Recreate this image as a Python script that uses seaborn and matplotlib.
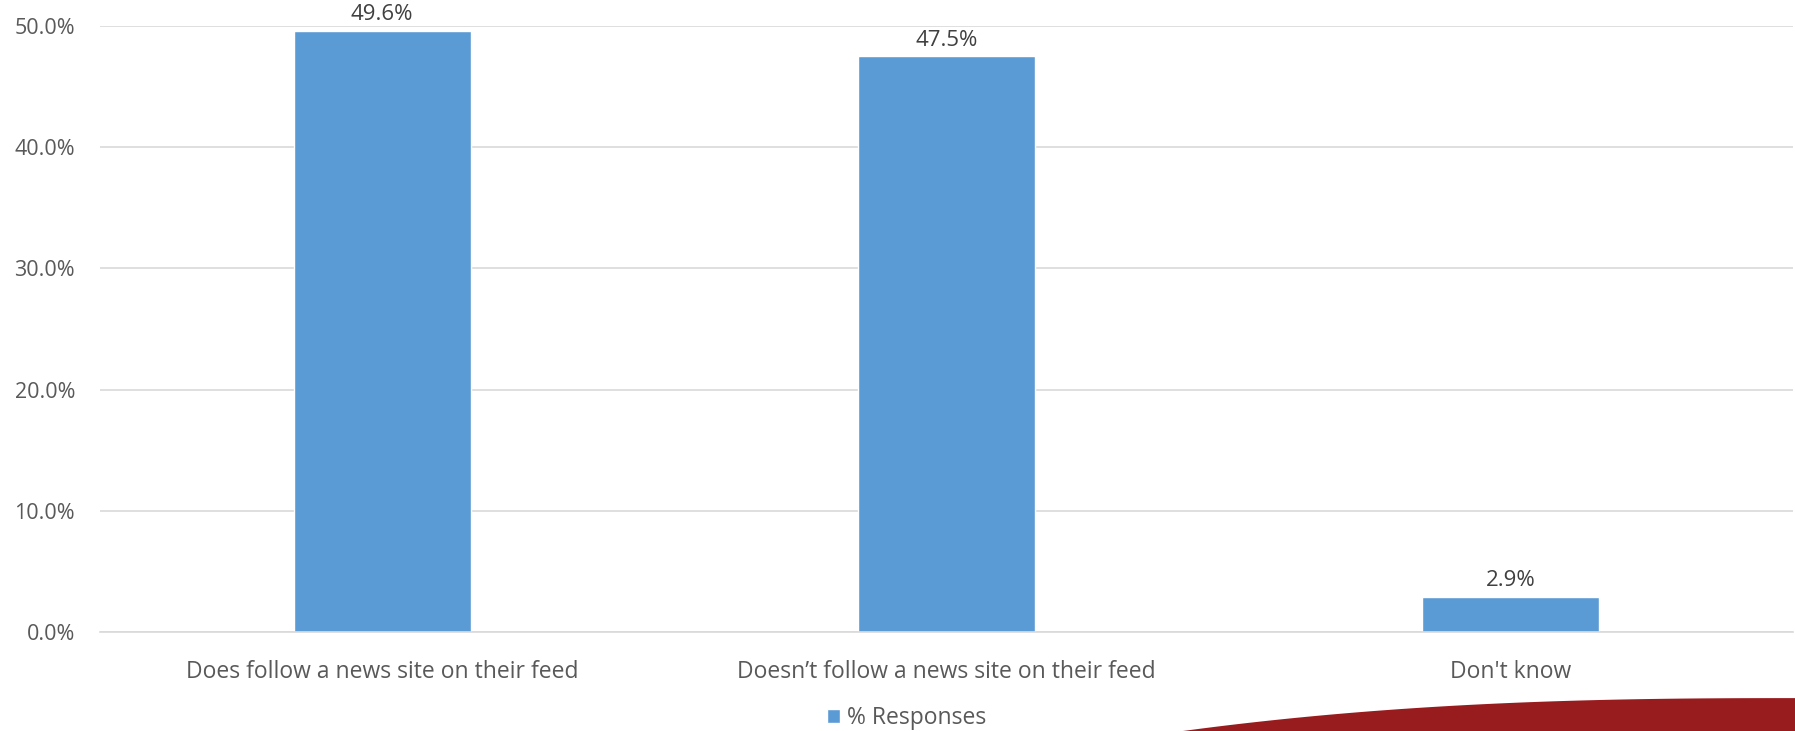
import matplotlib
matplotlib.use("Agg")
import matplotlib.pyplot as plt
import seaborn as sns
import pandas as pd
from matplotlib.patches import Polygon
from matplotlib.ticker import PercentFormatter
import numpy as np

# Data
categories = ["Does follow a news site on their feed",
              "Doesn\u2019t follow a news site on their feed",
              "Don't know"]
responses = [49.6, 47.5, 2.9]

df = pd.DataFrame({"category": categories, "pct": responses})

sns.set_theme(style="white")
plt.rcParams['font.family'] = ['Open Sans', 'DejaVu Sans']

text_col = "#595959"
bar_col = "#5B9BD5"

fig = plt.figure(figsize=(17.95, 7.31), dpi=100)
ax = fig.add_axes([100 / 1795, (731 - 632) / 731, 1693 / 1795, 606 / 731])

sns.barplot(data=df, x="category", y="pct", color=bar_col, width=0.314,
            saturation=1, ax=ax)

ax.set_ylim(0, 50)
ax.set_xlim(-0.5, 2.5)
ax.set_yticks([0, 10, 20, 30, 40, 50])
ax.yaxis.set_major_formatter(PercentFormatter(decimals=1))
ax.grid(axis="y", color="#D9D9D9", linewidth=1.2)
ax.set_axisbelow(True)
for s in ["top", "right", "left"]:
    ax.spines[s].set_visible(False)
ax.spines["bottom"].set_color("#D9D9D9")
ax.spines["bottom"].set_linewidth(1.2)
ax.tick_params(axis="x", length=0, labelsize=16.5, colors=text_col, pad=20)
ax.tick_params(axis="y", length=0, labelsize=15.5, colors=text_col, pad=18)
ax.set_xlabel("")
ax.set_ylabel("")

for c in ax.containers:
    ax.bar_label(c, labels=[f"{v:.1f}%" for v in responses], padding=4,
                 fontsize=16, color="#404040")

fig.legend(handles=ax.patches[:1], labels=["% Responses"], loc="center",
           bbox_to_anchor=(0.505, 1 - 718 / 731), frameon=False, fontsize=16.5,
           labelcolor=text_col, handlelength=0.6, handleheight=0.6,
           handletextpad=0.3)

# decorative red swoosh at the bottom right
xs = np.linspace(0.659, 1.0, 60)
t = (xs - 0.659) / (1.0 - 0.659)
ys = 0.045 * (1 - (1 - t) ** 2.5)
pts = list(zip(xs, ys)) + [(1.0, 0.0), (0.659, 0.0)]
fig.add_artist(Polygon(pts, closed=True, transform=fig.transFigure,
                       facecolor="#981B1E", edgecolor="none"))

fig.savefig("out.png", dpi=100)
